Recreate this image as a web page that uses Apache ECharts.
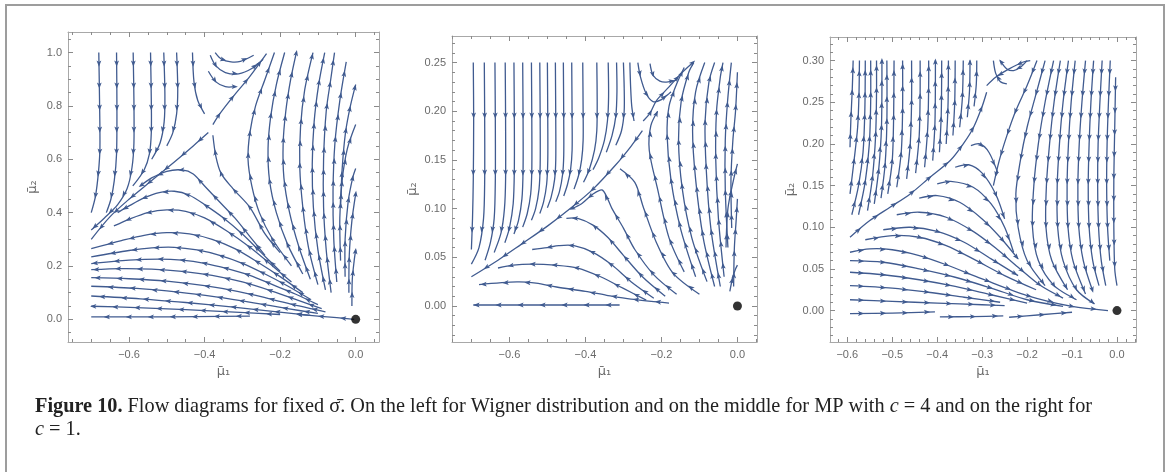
<!DOCTYPE html>
<html><head><meta charset="utf-8">
<script src="https://cdn.jsdelivr.net/npm/echarts@6/dist/echarts.min.js"></script>
<style>
html,body{margin:0;padding:0;background:#fff;overflow:hidden;}
#chart{position:absolute;left:0;top:0;width:1170px;height:472px;}
#frame{position:absolute;left:5px;top:4px;width:1156px;height:500px;border-left:2px solid #9d9d9d;border-top:2px solid #9d9d9d;border-right:2px solid #9d9d9d;}
</style></head>
<body>
<div id="frame"></div>
<div id="chart"></div>
<script>
// ---------- tick labels ----------
const P1_X_TICKS=[-0.6,-0.4,-0.2,0.0];
const P1_Y_TICKS=[0.0,0.2,0.4,0.6,0.8,1.0];
const P2_X_TICKS=[-0.6,-0.4,-0.2,0.0];
const P2_Y_TICKS=[0.00,0.05,0.10,0.15,0.20,0.25];
const P3_X_TICKS=[-0.6,-0.5,-0.4,-0.3,-0.2,-0.1,0.0];
const P3_Y_TICKS=[0.00,0.05,0.10,0.15,0.20,0.25,0.30];
const FIXED_POINT=[[0,0]];

// ---------- streamlines (points listed in flow direction) ----------
const P1_LINES=[
 [[-0.680,1.0],[-0.678,0.82],[-0.677,0.64],[-0.681,0.55],[-0.689,0.46],[-0.70,0.40]],
 [[-0.633,1.0],[-0.632,0.80],[-0.633,0.62],[-0.639,0.52],[-0.648,0.45],[-0.66,0.40]],
 [[-0.589,1.0],[-0.587,0.82],[-0.587,0.66],[-0.592,0.57],[-0.605,0.49],[-0.63,0.43],[-0.665,0.38],[-0.70,0.335]],
 [[-0.543,1.0],[-0.541,0.82],[-0.541,0.70],[-0.546,0.62],[-0.56,0.56],[-0.59,0.50]],
 [[-0.508,1.0],[-0.505,0.84],[-0.507,0.74],[-0.518,0.66],[-0.54,0.60]],
 [[-0.474,1.0],[-0.471,0.86],[-0.474,0.77],[-0.484,0.70],[-0.50,0.65]],
 [[-0.432,1.0],[-0.428,0.89],[-0.418,0.82],[-0.40,0.77]],
 [[-0.39,0.70],[-0.43,0.65],[-0.48,0.59],[-0.54,0.52],[-0.60,0.45],[-0.65,0.385],[-0.70,0.30]],
 [[-0.378,0.73],[-0.36,0.77],[-0.325,0.834],[-0.281,0.909],[-0.236,0.996]],
 [[-0.372,1.0],[-0.355,0.975],[-0.33,0.965],[-0.305,0.967],[-0.27,0.99]],
 [[-0.385,0.99],[-0.37,0.95],[-0.345,0.925],[-0.31,0.92],[-0.275,0.94],[-0.245,0.975]],
 [[-0.39,0.93],[-0.37,0.89],[-0.345,0.872],[-0.32,0.872]],
 [[-0.20,0.25],[-0.24,0.32],[-0.28,0.42],[-0.325,0.49],[-0.356,0.546],[-0.37,0.61],[-0.378,0.69]],
 [[-0.17,0.20],[-0.22,0.30],[-0.255,0.40],[-0.275,0.50],[-0.285,0.60],[-0.28,0.70],[-0.265,0.80],[-0.24,0.90],[-0.215,1.0]],
 [[-0.14,0.17],[-0.18,0.28],[-0.21,0.40],[-0.228,0.52],[-0.232,0.64],[-0.225,0.76],[-0.21,0.88],[-0.188,1.0]],
 [[-0.12,0.15],[-0.15,0.27],[-0.175,0.40],[-0.19,0.53],[-0.192,0.66],[-0.185,0.78],[-0.172,0.90],[-0.157,1.0]],
 [[-0.10,0.13],[-0.125,0.27],[-0.14,0.42],[-0.148,0.57],[-0.146,0.72],[-0.135,0.86],[-0.113,1.0]],
 [[-0.08,0.11],[-0.10,0.26],[-0.112,0.42],[-0.115,0.58],[-0.11,0.74],[-0.098,0.88],[-0.082,1.0]],
 [[-0.065,0.10],[-0.078,0.26],[-0.085,0.42],[-0.085,0.60],[-0.078,0.78],[-0.066,0.90],[-0.056,1.0]],
 [[-0.05,0.14],[-0.058,0.30],[-0.06,0.48],[-0.055,0.66],[-0.042,0.82],[-0.025,0.965]],
 [[-0.04,0.42],[-0.036,0.56],[-0.027,0.70],[-0.014,0.80],[0.0,0.88]],
 [[-0.04,0.22],[-0.042,0.38],[-0.036,0.52],[-0.022,0.64],[0.0,0.73]],
 [[-0.028,0.16],[-0.028,0.30],[-0.02,0.44],[-0.008,0.53],[0.0,0.565]],
 [[-0.018,0.10],[-0.017,0.24],[-0.01,0.37],[0.0,0.47]],
 [[-0.01,0.05],[-0.009,0.15],[-0.004,0.22],[0.0,0.26]],
 [[-0.24,0.24],[-0.28,0.31],[-0.32,0.38],[-0.36,0.44],[-0.40,0.50],[-0.43,0.545],[-0.46,0.56],[-0.50,0.555],[-0.54,0.53],[-0.57,0.50]],
 [[-0.20,0.18],[-0.25,0.25],[-0.30,0.32],[-0.35,0.38],[-0.40,0.43],[-0.44,0.465],[-0.48,0.48],[-0.52,0.475],[-0.56,0.455],[-0.60,0.425],[-0.63,0.40]],
 [[-0.17,0.14],[-0.22,0.20],[-0.28,0.27],[-0.34,0.33],[-0.40,0.38],[-0.45,0.405],[-0.50,0.41],[-0.55,0.40],[-0.60,0.375],[-0.64,0.35]],
 [[-0.14,0.10],[-0.20,0.16],[-0.26,0.215],[-0.32,0.265],[-0.38,0.30],[-0.44,0.32],[-0.50,0.325],[-0.56,0.315],[-0.62,0.295],[-0.70,0.265]],
 [[-0.12,0.075],[-0.18,0.125],[-0.24,0.17],[-0.30,0.21],[-0.36,0.24],[-0.42,0.26],[-0.48,0.27],[-0.54,0.268],[-0.60,0.258],[-0.70,0.234]],
 [[-0.10,0.055],[-0.16,0.095],[-0.22,0.13],[-0.28,0.165],[-0.34,0.19],[-0.40,0.21],[-0.46,0.222],[-0.52,0.226],[-0.60,0.222],[-0.70,0.209]],
 [[-0.09,0.04],[-0.15,0.07],[-0.22,0.105],[-0.30,0.14],[-0.38,0.165],[-0.46,0.18],[-0.54,0.188],[-0.62,0.19],[-0.70,0.186]],
 [[-0.08,0.028],[-0.15,0.05],[-0.23,0.078],[-0.31,0.104],[-0.40,0.126],[-0.50,0.143],[-0.60,0.152],[-0.70,0.156]],
 [[-0.10,0.022],[-0.18,0.04],[-0.27,0.062],[-0.37,0.084],[-0.47,0.102],[-0.58,0.116],[-0.70,0.124]],
 [[-0.12,0.015],[-0.22,0.03],[-0.33,0.047],[-0.45,0.063],[-0.57,0.077],[-0.70,0.0875]],
 [[-0.20,0.018],[-0.32,0.027],[-0.45,0.036],[-0.58,0.044],[-0.70,0.049]],
 [[-0.28,0.012],[-0.42,0.01],[-0.56,0.009],[-0.70,0.009]],
 [[-0.004,0.0],[-0.05,0.006],[-0.10,0.012],[-0.15,0.018]]
];

const P2_LINES=[
 [[-0.695,0.25],[-0.694,0.19],[-0.695,0.13],[-0.697,0.09],[-0.70,0.058]],
 [[-0.666,0.25],[-0.665,0.19],[-0.665,0.13],[-0.668,0.09],[-0.68,0.06],[-0.70,0.043]],
 [[-0.638,0.25],[-0.637,0.19],[-0.637,0.13],[-0.64,0.09],[-0.65,0.065],[-0.664,0.047]],
 [[-0.611,0.25],[-0.610,0.19],[-0.610,0.13],[-0.613,0.10],[-0.622,0.075],[-0.64,0.055]],
 [[-0.588,0.25],[-0.587,0.19],[-0.587,0.14],[-0.59,0.105],[-0.60,0.08],[-0.612,0.065]],
 [[-0.565,0.25],[-0.564,0.19],[-0.564,0.14],[-0.567,0.11],[-0.576,0.088],[-0.588,0.074]],
 [[-0.542,0.25],[-0.541,0.19],[-0.541,0.14],[-0.544,0.115],[-0.553,0.095],[-0.565,0.081]],
 [[-0.520,0.25],[-0.519,0.19],[-0.519,0.145],[-0.522,0.12],[-0.531,0.10],[-0.542,0.088]],
 [[-0.500,0.25],[-0.499,0.19],[-0.499,0.15],[-0.502,0.125],[-0.51,0.107],[-0.52,0.095]],
 [[-0.479,0.25],[-0.478,0.19],[-0.478,0.15],[-0.481,0.13],[-0.49,0.112],[-0.50,0.101]],
 [[-0.458,0.25],[-0.457,0.19],[-0.457,0.155],[-0.46,0.135],[-0.468,0.118],[-0.478,0.107]],
 [[-0.436,0.25],[-0.435,0.19],[-0.435,0.16],[-0.439,0.14],[-0.447,0.125],[-0.457,0.113]],
 [[-0.407,0.25],[-0.406,0.20],[-0.406,0.17],[-0.41,0.15],[-0.418,0.134],[-0.43,0.12]],
 [[-0.370,0.25],[-0.369,0.21],[-0.37,0.18],[-0.376,0.16],[-0.39,0.14],[-0.405,0.127]],
 [[-0.340,0.25],[-0.339,0.215],[-0.342,0.19],[-0.35,0.17],[-0.365,0.152],[-0.38,0.14]],
 [[-0.318,0.25],[-0.317,0.22],[-0.32,0.195],[-0.33,0.175],[-0.345,0.158]],
 [[-0.300,0.25],[-0.298,0.225],[-0.298,0.20],[-0.305,0.18],[-0.32,0.165]],
 [[-0.283,0.25],[-0.281,0.225],[-0.278,0.205],[-0.272,0.19]],
 [[-0.25,0.18],[-0.28,0.164],[-0.32,0.145],[-0.38,0.12],[-0.44,0.10],[-0.50,0.082],[-0.57,0.063],[-0.63,0.047],[-0.70,0.030]],
 [[-0.248,0.19],[-0.23,0.198],[-0.213,0.211],[-0.18,0.225],[-0.15,0.238],[-0.117,0.25]],
 [[-0.230,0.249],[-0.222,0.237],[-0.204,0.231],[-0.187,0.230],[-0.160,0.232]],
 [[-0.262,0.25],[-0.255,0.235],[-0.24,0.218],[-0.222,0.210],[-0.20,0.212],[-0.175,0.22]],
 [[-0.10,0.012],[-0.17,0.034],[-0.213,0.065],[-0.248,0.102],[-0.27,0.127],[-0.309,0.141]],
 [[-0.14,0.035],[-0.18,0.07],[-0.21,0.12],[-0.232,0.16],[-0.228,0.185],[-0.21,0.20]],
 [[-0.11,0.03],[-0.15,0.08],[-0.175,0.13],[-0.185,0.175],[-0.18,0.205],[-0.16,0.228],[-0.14,0.245]],
 [[-0.08,0.025],[-0.12,0.07],[-0.145,0.12],[-0.155,0.17],[-0.148,0.21],[-0.128,0.24],[-0.115,0.25]],
 [[-0.06,0.02],[-0.09,0.07],[-0.11,0.13],[-0.118,0.18],[-0.11,0.22],[-0.086,0.25]],
 [[-0.045,0.02],[-0.07,0.08],[-0.082,0.14],[-0.085,0.19],[-0.075,0.23],[-0.06,0.25]],
 [[-0.035,0.03],[-0.05,0.09],[-0.057,0.15],[-0.055,0.20],[-0.045,0.235],[-0.038,0.25]],
 [[-0.025,0.06],[-0.032,0.12],[-0.032,0.17],[-0.026,0.21],[-0.016,0.25]],
 [[-0.015,0.08],[-0.017,0.13],[-0.012,0.17],[-0.005,0.20],[0.0,0.24]],
 [[-0.01,0.02],[-0.008,0.06],[-0.003,0.09],[0.0,0.11]],
 [[-0.03,0.06],[-0.025,0.10],[-0.01,0.13],[0.0,0.146]],
 [[-0.02,0.015],[-0.012,0.03],[-0.005,0.038],[0.0,0.042]],
 [[-0.16,0.012],[-0.22,0.032],[-0.27,0.058],[-0.30,0.08],[-0.33,0.10],[-0.355,0.119],[-0.38,0.115],[-0.41,0.105],[-0.436,0.100]],
 [[-0.19,0.01],[-0.25,0.03],[-0.30,0.052],[-0.34,0.07],[-0.38,0.083],[-0.42,0.09],[-0.45,0.09]],
 [[-0.22,0.008],[-0.28,0.025],[-0.33,0.042],[-0.38,0.055],[-0.43,0.062],[-0.47,0.062],[-0.50,0.060],[-0.54,0.058]],
 [[-0.24,0.006],[-0.30,0.018],[-0.36,0.03],[-0.42,0.039],[-0.48,0.042],[-0.54,0.043],[-0.59,0.042],[-0.63,0.039]],
 [[-0.18,0.003],[-0.28,0.007],[-0.344,0.011],[-0.40,0.015],[-0.476,0.0195],[-0.53,0.0235],[-0.58,0.0247],[-0.68,0.022]],
 [[-0.31,0.001],[-0.40,0.001],[-0.50,0.001],[-0.60,0.001],[-0.695,0.001]]
];

const P3_LINES=[
 [[-0.594,0.196],[-0.592,0.23],[-0.589,0.265],[-0.587,0.30]],
 [[-0.594,0.14],[-0.585,0.18],[-0.577,0.22],[-0.574,0.26],[-0.573,0.30]],
 [[-0.59,0.115],[-0.575,0.15],[-0.565,0.19],[-0.561,0.24],[-0.560,0.30]],
 [[-0.575,0.115],[-0.56,0.155],[-0.551,0.20],[-0.548,0.25],[-0.548,0.30]],
 [[-0.555,0.12],[-0.544,0.16],[-0.537,0.21],[-0.535,0.26],[-0.535,0.30]],
 [[-0.54,0.128],[-0.53,0.17],[-0.524,0.22],[-0.523,0.30]],
 [[-0.525,0.135],[-0.516,0.175],[-0.512,0.225],[-0.512,0.30]],
 [[-0.51,0.14],[-0.5,0.18],[-0.497,0.23],[-0.496,0.30]],
 [[-0.49,0.148],[-0.48,0.19],[-0.477,0.24],[-0.477,0.30]],
 [[-0.468,0.158],[-0.46,0.20],[-0.457,0.25],[-0.457,0.30]],
 [[-0.448,0.165],[-0.44,0.21],[-0.438,0.26],[-0.438,0.30]],
 [[-0.428,0.172],[-0.421,0.22],[-0.419,0.27],[-0.419,0.30]],
 [[-0.41,0.18],[-0.405,0.225],[-0.404,0.30]],
 [[-0.395,0.19],[-0.391,0.235],[-0.39,0.30]],
 [[-0.38,0.20],[-0.376,0.245],[-0.375,0.30]],
 [[-0.365,0.21],[-0.361,0.25],[-0.36,0.30]],
 [[-0.35,0.22],[-0.344,0.255],[-0.342,0.30]],
 [[-0.333,0.232],[-0.328,0.265],[-0.327,0.30]],
 [[-0.318,0.245],[-0.313,0.272],[-0.312,0.30]],
 [[-0.594,0.088],[-0.55,0.108],[-0.505,0.124],[-0.46,0.14],[-0.416,0.16],[-0.371,0.18],[-0.342,0.20],[-0.319,0.22],[-0.30,0.245],[-0.29,0.262]],
 [[-0.193,0.30],[-0.21,0.298],[-0.24,0.29],[-0.27,0.28],[-0.29,0.27]],
 [[-0.20,0.30],[-0.215,0.292],[-0.23,0.288],[-0.245,0.29],[-0.26,0.30]],
 [[-0.245,0.272],[-0.26,0.275],[-0.27,0.285],[-0.275,0.30]],
 [[-0.178,0.30],[-0.20,0.27],[-0.225,0.24],[-0.245,0.21],[-0.262,0.18],[-0.275,0.15]],
 [[-0.16,0.30],[-0.18,0.26],[-0.20,0.22],[-0.215,0.18],[-0.225,0.14],[-0.22,0.10],[-0.20,0.06],[-0.16,0.03]],
 [[-0.141,0.30],[-0.16,0.25],[-0.175,0.20],[-0.185,0.15],[-0.188,0.10],[-0.175,0.06],[-0.14,0.03],[-0.09,0.013]],
 [[-0.126,0.30],[-0.14,0.25],[-0.15,0.20],[-0.157,0.15],[-0.158,0.10],[-0.145,0.06],[-0.11,0.025]],
 [[-0.108,0.30],[-0.12,0.25],[-0.128,0.20],[-0.133,0.15],[-0.132,0.10],[-0.12,0.06],[-0.09,0.025],[-0.05,0.008]],
 [[-0.093,0.30],[-0.102,0.25],[-0.108,0.20],[-0.111,0.15],[-0.109,0.10],[-0.098,0.06],[-0.07,0.02]],
 [[-0.07,0.30],[-0.078,0.25],[-0.084,0.20],[-0.087,0.15],[-0.085,0.10],[-0.075,0.06],[-0.055,0.025]],
 [[-0.052,0.30],[-0.058,0.25],[-0.062,0.20],[-0.064,0.15],[-0.062,0.10],[-0.054,0.06],[-0.04,0.03]],
 [[-0.033,0.30],[-0.038,0.25],[-0.042,0.20],[-0.043,0.15],[-0.041,0.10],[-0.035,0.06],[-0.025,0.03]],
 [[-0.015,0.30],[-0.019,0.25],[-0.022,0.20],[-0.023,0.15],[-0.021,0.10],[-0.016,0.06]],
 [[-0.003,0.28],[-0.005,0.22],[-0.007,0.16],[-0.007,0.10],[-0.005,0.05],[0.0,0.03]],
 [[-0.594,0.070],[-0.55,0.074],[-0.50,0.073],[-0.44,0.066],[-0.38,0.055],[-0.30,0.038],[-0.20,0.018],[-0.10,0.005],[-0.02,0.0]],
 [[-0.56,0.085],[-0.50,0.09],[-0.44,0.088],[-0.38,0.078],[-0.32,0.062],[-0.25,0.042],[-0.18,0.025]],
 [[-0.52,0.097],[-0.46,0.10],[-0.40,0.095],[-0.34,0.082],[-0.28,0.062],[-0.22,0.042]],
 [[-0.49,0.115],[-0.44,0.118],[-0.38,0.112],[-0.32,0.095],[-0.27,0.075],[-0.22,0.052],[-0.17,0.03],[-0.12,0.015]],
 [[-0.44,0.135],[-0.40,0.138],[-0.35,0.13],[-0.30,0.11],[-0.26,0.088],[-0.22,0.062]],
 [[-0.40,0.152],[-0.37,0.155],[-0.32,0.148],[-0.28,0.128],[-0.25,0.10],[-0.23,0.07]],
 [[-0.36,0.172],[-0.33,0.175],[-0.30,0.165],[-0.27,0.14],[-0.25,0.11]],
 [[-0.325,0.198],[-0.305,0.20],[-0.285,0.19],[-0.265,0.165]],
 [[-0.594,0.060],[-0.52,0.058],[-0.44,0.050],[-0.36,0.040],[-0.28,0.027],[-0.20,0.013],[-0.12,0.005]],
 [[-0.594,0.046],[-0.52,0.043],[-0.44,0.037],[-0.36,0.029],[-0.28,0.019],[-0.20,0.009]],
 [[-0.594,0.030],[-0.50,0.027],[-0.42,0.022],[-0.34,0.016],[-0.26,0.010]],
 [[-0.594,0.013],[-0.50,0.011],[-0.40,0.009],[-0.30,0.007],[-0.25,0.006]],
 [[-0.594,-0.0036],[-0.50,-0.003],[-0.405,-0.0016]],
 [[-0.394,-0.0076],[-0.32,-0.0072],[-0.253,-0.0064]],
 [[-0.24,-0.008],[-0.17,-0.005],[-0.10,-0.002]]
];

// ---------- panel geometry ----------
const COLOR='#405b90';
const panels=[
 {lines:P1_LINES,xt:P1_X_TICKS,yt:P1_Y_TICKS,xr:[-0.7615,0.0617],yr:[-0.085,1.077],xm:0.05,ym:0.05,xd:1,yd:1,grid:{left:68,top:32,width:311,height:310},yNameGap:29,arrows:[]},
 {lines:P2_LINES,xt:P2_X_TICKS,yt:P2_Y_TICKS,xr:[-0.751,0.0515],yr:[-0.037,0.2773],xm:0.05,ym:0.01,xd:1,yd:2,grid:{left:452,top:36,width:305,height:306},yNameGap:33,arrows:[{from:0,to:17,start:53,gap:57}]},
 {lines:P3_LINES,xt:P3_X_TICKS,yt:P3_Y_TICKS,xr:[-0.6385,0.0423],yr:[-0.0377,0.3283],xm:0.02,ym:0.01,xd:1,yd:2,grid:{left:830,top:37,width:306,height:305},yNameGap:33,arrows:[]}
];

function minors(r,step){const a=[];let v=Math.ceil(r[0]/step-1e-9)*step;while(v<=r[1]+1e-9){a.push(+v.toFixed(4));v+=step;}return a;}
function fmt(d){return v=>{const s=Math.abs(v).toFixed(d);return (v<-1e-9?'\u2212':'')+s;};}

const grids=[],xAxes=[],yAxes=[],series=[];
const lab={color:'#6a6a6a',fontSize:11,fontFamily:'Liberation Sans, Arial, sans-serif'};
const nameStyle={color:'#6a6a6a',fontSize:13,fontFamily:'DejaVu Sans, sans-serif'};
panels.forEach((p,gi)=>{
 grids.push(p.grid);
 const frame={show:true,onZero:false,lineStyle:{color:'#a8a8a8',width:1}};
 const noLine={show:false,onZero:false};
 const tickStyle={color:'#8a8a8a',width:1};
 const xBase={gridIndex:gi,type:'value',min:p.xr[0],max:p.xr[1],splitLine:{show:false}};
 const yBase={gridIndex:gi,type:'value',min:p.yr[0],max:p.yr[1],splitLine:{show:false}};
 const xMin=minors(p.xr,p.xm), yMin=minors(p.yr,p.ym);
 ['bottom','top'].forEach((pos,k)=>{
  xAxes.push(Object.assign({},xBase,{position:pos,axisLine:frame,
    axisTick:{show:true,inside:true,length:5,customValues:p.xt,lineStyle:tickStyle},
    axisLabel:k===0?Object.assign({show:true,customValues:p.xt,formatter:fmt(p.xd),margin:7},lab):{show:false},
    name:k===0?'\u03bc\u0304\u2081':'',nameLocation:'middle',nameGap:20,nameTextStyle:nameStyle}));
  xAxes.push(Object.assign({},xBase,{position:pos,axisLine:noLine,
    axisTick:{show:true,inside:true,length:3,customValues:xMin,lineStyle:tickStyle},axisLabel:{show:false}}));
 });
 ['left','right'].forEach((pos,k)=>{
  yAxes.push(Object.assign({},yBase,{position:pos,axisLine:frame,
    axisTick:{show:true,inside:true,length:5,customValues:p.yt,lineStyle:tickStyle},
    axisLabel:k===0?Object.assign({show:true,customValues:p.yt,formatter:fmt(p.yd),margin:6},lab):{show:false},
    name:k===0?'\u03bc\u0304\u2082':'',nameLocation:'middle',nameGap:p.yNameGap,nameRotate:90,nameTextStyle:nameStyle}));
  yAxes.push(Object.assign({},yBase,{position:pos,axisLine:noLine,
    axisTick:{show:true,inside:true,length:3,customValues:yMin,lineStyle:tickStyle},axisLabel:{show:false}}));
 });
 const lines=p.lines, arrows=p.arrows;
 series.push({type:'custom',xAxisIndex:gi*4,yAxisIndex:gi*4,clip:true,silent:true,
  data:lines.map(l=>l[0]),
  renderItem:function(params,api){
   const idx=params.dataIndex;
   const pts=lines[idx].map(q=>api.coord(q));
   const ch=[{type:'polyline',shape:{points:pts,smooth:0.3},style:{stroke:COLOR,lineWidth:1.3,fill:null}}];
   let start=11,SP=22;
   arrows.forEach(a=>{if(idx>=a.from&&idx<=a.to){start=a.start;SP=a.gap;}});
   let acc=0,next=start;
   for(let i=1;i<pts.length;i++){
    const x0=pts[i-1][0],y0=pts[i-1][1],x1=pts[i][0],y1=pts[i][1];
    const L=Math.hypot(x1-x0,y1-y0);if(L<1e-6)continue;
    const ux=(x1-x0)/L,uy=(y1-y0)/L;
    while(acc+L>=next){
     const t=(next-acc)/L,cx=x0+(x1-x0)*t,cy=y0+(y1-y0)*t;
     ch.push({type:'polygon',shape:{points:[[cx+ux*3.2,cy+uy*3.2],[cx-ux*3+uy*2.4,cy-uy*3-ux*2.4],[cx-ux*1.6,cy-uy*1.6],[cx-ux*3-uy*2.4,cy-uy*3+ux*2.4]]},style:{fill:COLOR}});
     next+=SP;
    }
    acc+=L;
   }
   return {type:'group',children:ch};
  }});
 series.push({type:'scatter',xAxisIndex:gi*4,yAxisIndex:gi*4,data:FIXED_POINT,symbolSize:9,itemStyle:{color:'#000'},silent:true,z:5});
});

const chart=echarts.init(document.getElementById('chart'),null,{renderer:'canvas'});
const CF='"Liberation Serif", serif';
chart.setOption({
 animation:false,
 grid:grids,xAxis:xAxes,yAxis:yAxes,series:series,
 graphic:[
  {type:'text',left:35,top:397,style:{text:'{b|Figure 10.} Flow diagrams for fixed σ\u0304. On the left for Wigner distribution and on the middle for MP with {i|c} = 4 and on the right for',
    font:'20.3px '+CF,fill:'#222',rich:{b:{fontWeight:'bold',fontSize:20.3,fontFamily:'Liberation Serif'},i:{fontStyle:'italic',fontSize:20.3,fontFamily:'Liberation Serif'}}}},
  {type:'text',left:35,top:420,style:{text:'{i|c} = 1.',font:'20.3px '+CF,fill:'#222',rich:{i:{fontStyle:'italic',fontSize:20.3,fontFamily:'Liberation Serif'}}}}
 ]
});
</script>
</body></html>
